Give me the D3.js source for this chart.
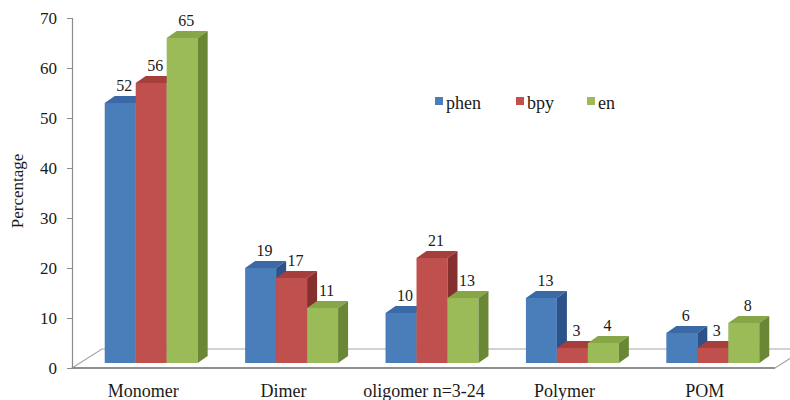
<!DOCTYPE html>
<html>
<head>
<meta charset="utf-8">
<script src="https://cdn.jsdelivr.net/npm/d3@7"></script>
<style>
  html, body { margin: 0; padding: 0; background: #fff; }
  svg { display: block; }
  svg text { font-family: 'Liberation Serif', 'Times New Roman', serif !important; fill: #1a1a1a; }
</style>
</head>
<body>
<svg id="chart" width="790" height="400"></svg>
<script>
// Share of each structure type by ligand
const categories = ["Monomer", "Dimer", "oligomer n=3-24", "Polymer", "POM"];
const seriesNames = ["phen", "bpy", "en"];
const phen = [52, 19, 10, 13, 6];
const bpy  = [56, 17, 21, 3, 3];
const en   = [65, 11, 13, 4, 8];
const yTicks = [0, 10, 20, 30, 40, 50, 60, 70];

const seriesValues = [phen, bpy, en];
const colors = {
  phen: { front: "#4a7ebb", top: "#3b69a6", side: "#2d5189" },
  bpy:  { front: "#c0504d", top: "#a63f3c", side: "#85302e" },
  en:   { front: "#9bbb59", top: "#86a647", side: "#6a8736" }
};
const serif = "'Liberation Serif', 'Times New Roman', serif";

const svg = d3.select("#chart").attr("font-family", serif);

// Front plane of the chart box
const y = d3.scaleLinear().domain([0, 70]).range([368, 18]);
const x = d3.scaleBand().domain(categories).range([73, 775])
  .paddingInner(0.338).paddingOuter(0.169);
const xs = d3.scaleBand().domain(seriesNames).range([0, x.bandwidth()]);

// 3D offsets: floor depth, bar front plane offset, bar depth
const floorDepth = { dx: 30, dy: -19 };
const barShift = { dx: 8, dy: -5 };
const barDepth = { dx: 10, dy: -7 };

// Floor
const fx0 = x.range()[0] - 1, fx1 = x.range()[1], fy = y(0);
svg.append("path")
  .attr("d", `M${fx0},${fy} L${fx0 + floorDepth.dx},${fy + floorDepth.dy} L${fx1 + floorDepth.dx},${fy + floorDepth.dy} L${fx1},${fy} Z`)
  .attr("fill", "#fff").attr("stroke", "#a6a6a6").attr("stroke-width", 1.2);
svg.append("line")
  .attr("x1", fx0).attr("x2", fx1).attr("y1", fy).attr("y2", fy)
  .attr("stroke", "#8f8f8f").attr("stroke-width", 2);

// Y axis
const yAxis = d3.axisLeft(y).tickValues(yTicks).tickSize(5).tickPadding(10);
const gy = svg.append("g").attr("transform", "translate(72,0)").call(yAxis)
  .attr("font-family", serif).attr("font-size", 17);
gy.select(".domain").attr("stroke", "#8c8c8c").attr("stroke-width", 1.2);
gy.selectAll(".tick line").attr("stroke", "#8c8c8c");
gy.selectAll(".tick text").attr("fill", "#1a1a1a");

svg.append("text")
  .attr("transform", "translate(23,191) rotate(-90)")
  .attr("text-anchor", "middle")
  .attr("font-size", 17)
  .text("Percentage");

// Category labels
svg.append("g").selectAll("text").data(categories).join("text")
  .attr("x", d => x(d) + x.bandwidth() / 2)
  .attr("y", 397)
  .attr("text-anchor", "middle")
  .attr("font-size", 18)
  .text(d => d);

// Bars, drawn left to right so each front face covers the previous side
const bars = [];
categories.forEach((c, ci) => {
  seriesNames.forEach((s, si) => {
    bars.push({ cat: c, series: s, value: seriesValues[si][ci] });
  });
});

const gBars = svg.append("g");
bars.forEach(b => {
  const x0 = x(b.cat) + xs(b.series) + barShift.dx;
  const w = xs.bandwidth();
  const yb = y(0) + barShift.dy;
  const yt = y(b.value) + barShift.dy;
  const c = colors[b.series];
  const g = gBars.append("g");
  g.append("rect")
    .attr("x", x0).attr("y", yt).attr("width", w).attr("height", yb - yt)
    .attr("fill", c.front);
  g.append("path")
    .attr("d", `M${x0},${yt} L${x0 + barDepth.dx},${yt + barDepth.dy} L${x0 + w + barDepth.dx},${yt + barDepth.dy} L${x0 + w},${yt} Z`)
    .attr("fill", c.top);
  g.append("path")
    .attr("d", `M${x0 + w},${yt} L${x0 + w + barDepth.dx},${yt + barDepth.dy} L${x0 + w + barDepth.dx},${yb + barDepth.dy} L${x0 + w},${yb} Z`)
    .attr("fill", c.side);
  g.append("text")
    .attr("x", x0 + w / 2 + 4)
    .attr("y", yt + barDepth.dy - 5)
    .attr("text-anchor", "middle")
    .attr("font-size", 16)
    .text(b.value);
});

// Legend
const legendX = [435, 516, 587];
const legend = svg.append("g").selectAll("g").data(seriesNames).join("g")
  .attr("transform", (d, i) => `translate(${legendX[i]},97)`);
legend.append("rect").attr("width", 8).attr("height", 8)
  .attr("fill", d => colors[d].front);
legend.append("text").attr("x", 11).attr("y", 12)
  .attr("font-size", 18)
  .text(d => d);
</script>
</body>
</html>
